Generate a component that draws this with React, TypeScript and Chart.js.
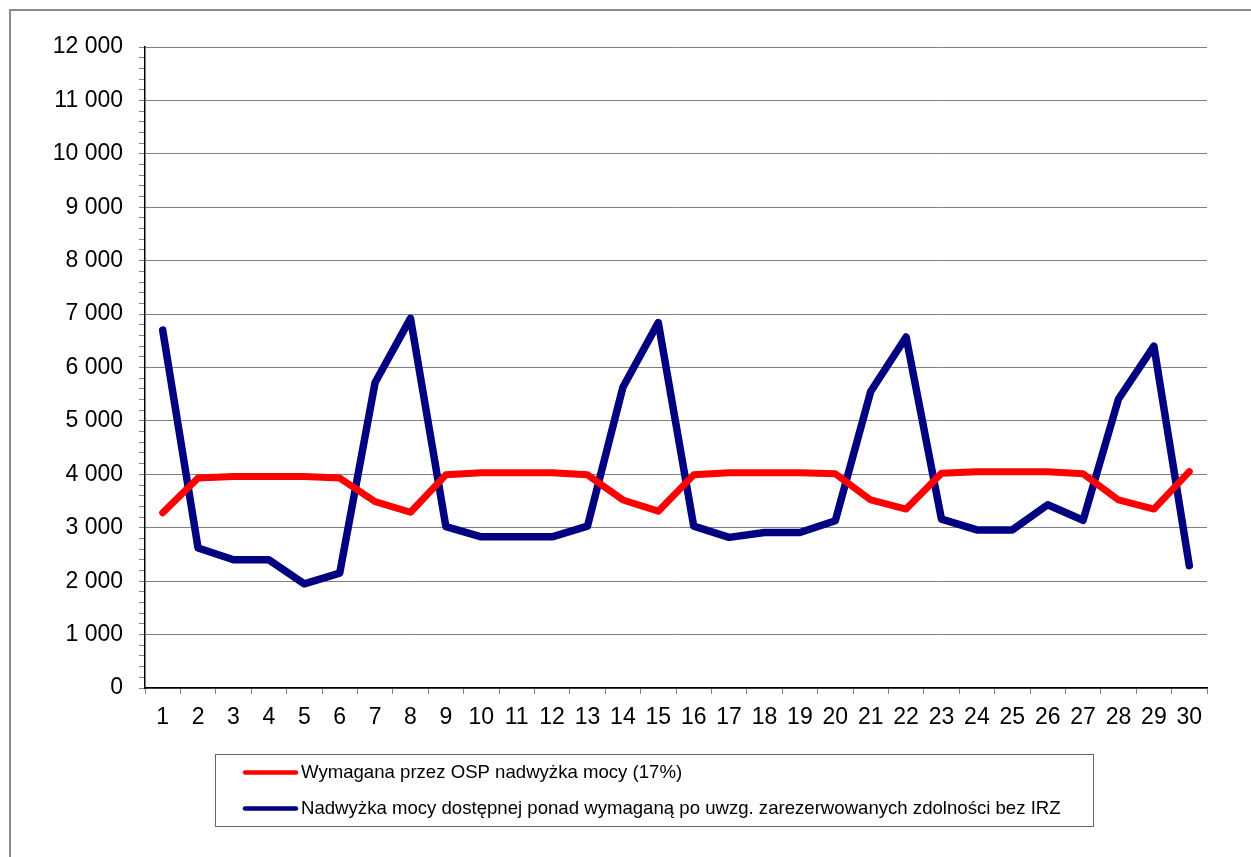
import React, { useEffect, useRef } from "react";
import { Chart, registerables } from "chart.js";

Chart.register(...registerables);

const categories: string[] = Array.from({ length: 30 }, (_, i) => String(i + 1));

const seriesRequiredLabel = "Wymagana przez OSP nadwyżka mocy (17%)";
const seriesRequired: number[] = [
  3280, 3930, 3960, 3960, 3960, 3930, 3490, 3290, 3990, 4030,
  4030, 4030, 3990, 3520, 3310, 3990, 4030, 4030, 4030, 4010,
  3520, 3350, 4020, 4050, 4050, 4050, 4010, 3520, 3350, 4050,
];

const seriesSurplusLabel =
  "Nadwyżka mocy dostępnej ponad wymaganą po uwzg. zarezerwowanych zdolności bez IRZ";
const seriesSurplus: number[] = [
  6700, 2620, 2400, 2400, 1950, 2150, 5720, 6920, 3020, 2830,
  2830, 2830, 3030, 5630, 6840, 3030, 2820, 2910, 2910, 3130,
  5550, 6570, 3160, 2960, 2960, 3430, 3140, 5410, 6400, 2290,
];

const yMin = 0;
const yMax = 12000;
const yMajorStep = 1000;
const yMinorStep = 200;

const FONT = "'Liberation Sans', Arial, sans-serif";

function formatThousands(v: number): string {
  return String(Math.round(v)).replace(/\B(?=(\d{3})+(?!\d))/g, " ");
}

const framePlugin = {
  id: "frameAndLegend",
  afterDraw(chart: any) {
    const ctx = chart.ctx as CanvasRenderingContext2D;
    ctx.save();
    // outer frame (top and left visible)
    ctx.strokeStyle = "#8a8a8a";
    ctx.lineWidth = 2;
    ctx.beginPath();
    ctx.moveTo(10, 860);
    ctx.lineTo(10, 10);
    ctx.lineTo(1260, 10);
    ctx.stroke();

    // legend box
    const bx = 215.5, by = 754.5, bw = 878, bh = 72;
    ctx.strokeStyle = "#666666";
    ctx.lineWidth = 1;
    ctx.strokeRect(bx, by, bw, bh);

    const rows = [772.5, 808.5];
    chart.data.datasets.forEach((ds: any, i: number) => {
      const y = rows[i];
      ctx.strokeStyle = ds.borderColor;
      ctx.lineWidth = 4.5;
      ctx.lineCap = "round";
      ctx.beginPath();
      ctx.moveTo(245, y);
      ctx.lineTo(296, y);
      ctx.stroke();
      ctx.fillStyle = "#000000";
      ctx.font = `18.6px ${FONT}`;
      ctx.textBaseline = "middle";
      ctx.textAlign = "left";
      ctx.fillText(ds.label, 301, y);
    });
    ctx.restore();
  },
};

export default function App() {
  const canvasRef = useRef<HTMLCanvasElement | null>(null);

  useEffect(() => {
    const canvas = canvasRef.current;
    if (!canvas) return;
    const chart = new Chart(canvas, {
      type: "line",
      data: {
        labels: categories,
        datasets: [
          {
            label: seriesRequiredLabel,
            data: seriesRequired,
            borderColor: "#FF0000",
            backgroundColor: "#FF0000",
            borderWidth: 7,
            pointRadius: 0,
            tension: 0,
            borderCapStyle: "round",
            borderJoinStyle: "round",
          },
          {
            label: seriesSurplusLabel,
            data: seriesSurplus,
            borderColor: "#000080",
            backgroundColor: "#000080",
            borderWidth: 7.5,
            pointRadius: 0,
            tension: 0,
            borderCapStyle: "round",
            borderJoinStyle: "round",
          },
        ],
      },
      options: {
        responsive: false,
        devicePixelRatio: 1,
        animation: false,
        layout: { padding: { left: 0, top: 47, right: 44, bottom: 120 } },
        plugins: {
          legend: { display: false },
          tooltip: { enabled: false },
        },
        scales: {
          x: {
            type: "category",
            offset: true,
            grid: {
              offset: true,
              drawOnChartArea: false,
              drawTicks: true,
              tickLength: 6,
              color: "#808080",
              tickColor: "#808080",
            },
            border: { color: "#000000", width: 1.5 },
            ticks: {
              color: "#000000",
              font: { family: FONT, size: 23 },
              padding: 10,
              maxRotation: 0,
              autoSkip: false,
            },
            afterFit(scale: any) {
              scale.height = 857 - 688 - 120;
            },
          },
          y: {
            min: yMin,
            max: yMax,
            grid: {
              drawTicks: true,
              tickLength: 6,
              color: (c: any) =>
                c.tick && c.tick.value % yMajorStep === 0 ? "#808080" : "rgba(0,0,0,0)",
              tickColor: "#808080",
              lineWidth: 1,
            },
            border: { color: "#000000", width: 1.5 },
            ticks: {
              stepSize: yMinorStep,
              autoSkip: false,
              color: "#000000",
              font: { family: FONT, size: 23 },
              padding: 16,
              callback: (v: any) =>
                Number(v) % yMajorStep === 0 ? formatThousands(Number(v)) : "",
            },
            afterFit(scale: any) {
              scale.width = 145;
            },
          },
        },
      },
      plugins: [framePlugin],
    });
    return () => chart.destroy();
  }, []);

  return (
    <div
      style={{
        position: "fixed",
        left: 0,
        top: 0,
        width: 1251,
        height: 857,
        background: "#ffffff",
      }}
    >
      <canvas ref={canvasRef} width={1251} height={857} style={{ display: "block" }} />
    </div>
  );
}
